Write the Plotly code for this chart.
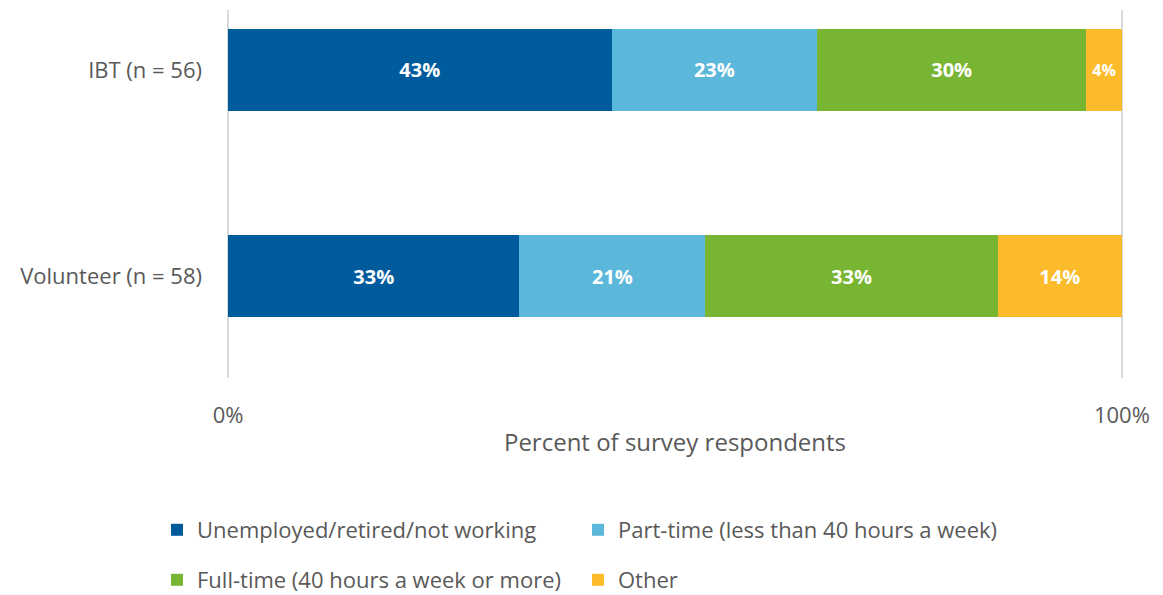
import plotly.graph_objects as go

groups = ["IBT (n = 56)", "Volunteer (n = 58)"]
series_names = [
    "Unemployed/retired/not working",
    "Part-time (less than 40 hours a week)",
    "Full-time (40 hours a week or more)",
    "Other",
]
unemployed = [42.9, 32.6]
part_time = [23.0, 20.8]
full_time = [30.1, 32.7]
other = [4.0, 13.9]
x_tick_vals = [0, 100]
x_tick_text = ["0%", "100%"]

colors = ["#005B9D", "#5CB8DB", "#77B533", "#FBBB2B"]
values = [unemployed, part_time, full_time, other]
legend_ids = ["legend", "legend", "legend2", "legend2"]
label_sizes = [[20, 20], [20, 20], [20, 20], [16, 20]]

FONT = "Open Sans, Liberation Sans, sans-serif"
TXT = "#595959"

fig = go.Figure()
for name, vals, col, lg, sz in zip(series_names, values, colors, legend_ids, label_sizes):
    fig.add_trace(go.Bar(
        y=groups, x=vals, name=name, orientation="h",
        marker=dict(color=col, line=dict(width=0)),
        width=0.4,
        texttemplate="%{x:.0f}%",
        textposition="inside",
        insidetextanchor="middle",
        textangle=0,
        textfont=dict(color="white", size=sz, family=FONT, weight="bold"),
        legend=lg,
        hoverinfo="skip",
    ))

fig.update_layout(
    barmode="stack",
    width=1163, height=595,
    margin=dict(l=227, r=40, t=10, b=217),
    plot_bgcolor="white", paper_bgcolor="white",
    font=dict(family=FONT, color=TXT, size=22),
    xaxis=dict(
        range=[-0.12, 100.12],
        tickvals=x_tick_vals, ticktext=x_tick_text,
        showgrid=True, gridcolor="#d9d9d9", gridwidth=2,
        zeroline=False, showline=False,
        ticks="", ticklabelstandoff=22,
        tickfont=dict(size=22, color=TXT, family=FONT),
        title=dict(text="Percent of survey respondents", standoff=6,
                   font=dict(size=24, color=TXT, family=FONT)),
    ),
    yaxis=dict(
        range=[1.495, -0.291],
        showgrid=False, zeroline=False, showline=False,
        ticks="", ticklabelstandoff=24,
        tickfont=dict(size=22, color=TXT, family=FONT),
    ),
    legend=dict(
        orientation="h", xref="container", yref="container",
        x=0.135, y=(595 - 530) / 595, xanchor="left", yanchor="middle",
        entrywidth=376, font=dict(size=22, color=TXT, family=FONT),
        bgcolor="rgba(0,0,0,0)", traceorder="normal",
    ),
    legend2=dict(
        orientation="h", xref="container", yref="container",
        x=0.135, y=(595 - 580) / 595, xanchor="left", yanchor="middle",
        entrywidth=376, font=dict(size=22, color=TXT, family=FONT),
        bgcolor="rgba(0,0,0,0)", traceorder="normal",
    ),
)

fig.write_html("out.html")
